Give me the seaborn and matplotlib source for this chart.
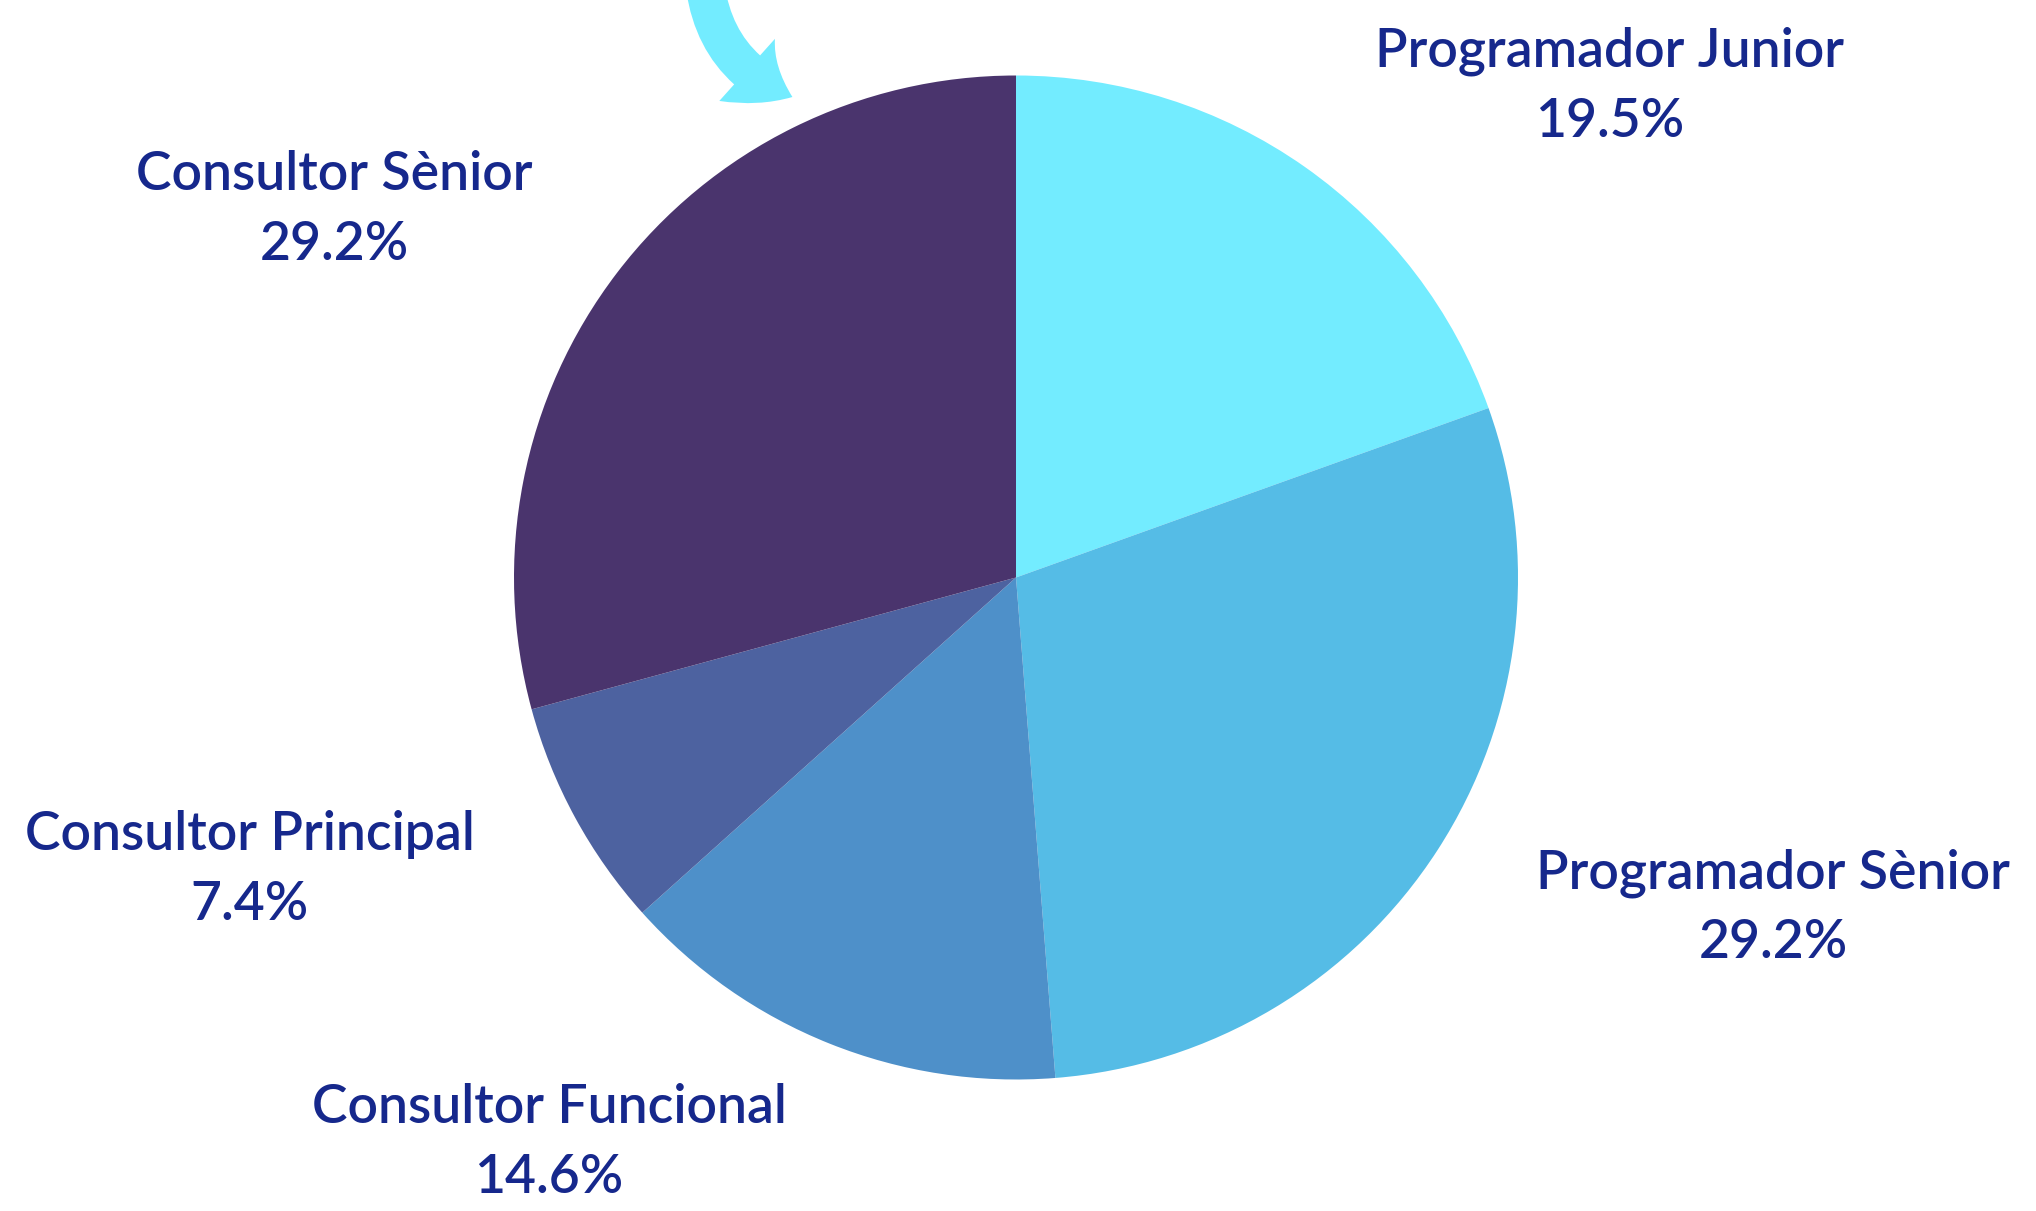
import matplotlib.pyplot as plt
import seaborn as sns
from matplotlib.patches import FancyArrowPatch

# Dades del gràfic
categories = ["Programador Junior", "Programador Sènior", "Consultor Funcional",
              "Consultor Principal", "Consultor Sènior"]
percentatges = [19.5, 29.2, 14.6, 7.4, 29.2]
colors = ["#73ECFF", "#55BCE6", "#4E90C9", "#4D62A0", "#4A346D"]

# Posició de les etiquetes (centre x, línia base y des de dalt, en píxels)
posicions = [(1610, 67), (1773, 888), (549, 1123), (250, 850), (334, 190)]

W, H = 2036, 1211
COLOR_TEXT = "#16288C"

sns.set_theme(style="white")
plt.rcParams["font.family"] = ["Lato", "DejaVu Sans"]

fig = plt.figure(figsize=(W / 100, H / 100), dpi=100)
ax = fig.add_axes([0, 0, 1, 1])

ax.pie(percentatges, colors=colors, startangle=90, counterclock=False,
       center=(1016, H - 577.5), radius=502, wedgeprops=dict(linewidth=0))
ax.set_xlim(0, W)
ax.set_ylim(0, H)
ax.set_aspect("equal")
ax.axis("off")

# Etiquetes: nom i percentatge
for nom, valor, (x, y) in zip(categories, percentatges, posicions):
    ax.text(x, H - y, nom, ha="center", va="baseline", fontsize=38.5,
            fontweight="semibold", color=COLOR_TEXT)
    ax.text(x, H - y - 70, f"{valor:.1f}%", ha="center", va="baseline",
            fontsize=38.5, fontweight="semibold", color=COLOR_TEXT)

# Fletxa decorativa
fletxa = FancyArrowPatch((705, H + 15), (795, H - 98),
                         connectionstyle="arc3,rad=0.3",
                         arrowstyle="simple,head_width=3.0,head_length=1.9,tail_width=1.4",
                         mutation_scale=20, color="#73ECFF", linewidth=0)
ax.add_patch(fletxa)

fig.savefig("out.png", dpi=100)
plt.close()
